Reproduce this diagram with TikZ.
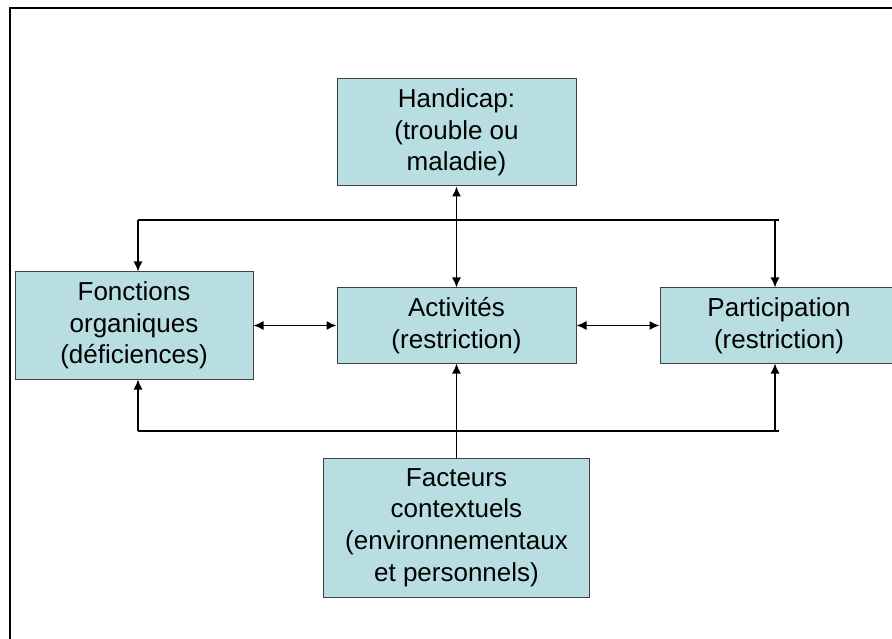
\documentclass[tikz,border=0pt]{standalone}
\usepackage{fontspec}
\setmainfont{Liberation Sans}
\usetikzlibrary{positioning,arrows.meta}

\definecolor{boxfill}{RGB}{184,222,225}

\begin{document}
\begin{tikzpicture}[x=1pt, y=-1pt,
    box/.style={draw=black!75, line width=1pt, fill=boxfill, align=center,
        inner sep=0pt, font=\fontsize{26}{31.7}\selectfont},
    link/.style={line width=1.4pt},
    arr/.style={link, -{Latex[length=10pt,width=9pt]}},
    dbl/.style={link, {Latex[length=10pt,width=9pt]}-{Latex[length=10pt,width=9pt]}}]
\useasboundingbox (0,0) rectangle (892,639);

% Outer frame
\draw[line width=2pt] (10,660) |- (910,8);

% Boxes
\node[box, minimum width=239pt, minimum height=107pt] (handicap) at (456.5,132.5) {Handicap:\\(trouble ou\\maladie)};
\node[box, minimum width=238pt, minimum height=107pt] (fonctions) at (134,325.5) {Fonctions\\organiques\\(déficiences)};
\node[box, minimum width=239pt, minimum height=75pt] (activites) at (456.5,325.5) {Activités\\(restriction)};
\node[box, minimum width=238pt, minimum height=75pt] (participation) at (779,325.5) {Participation\\(restriction)};
\node[box, minimum width=266pt, minimum height=139pt] (facteurs) at (456.5,527.5) {Facteurs\\contextuels\\(environnementaux\\et personnels)};

% Corners of the loops
\coordinate (topL) at (138,220);
\coordinate (topR) at (775,220);
\coordinate (topE) at (779,220);
\coordinate (botL) at (138,431);
\coordinate (botR) at (775,431);
\coordinate (botE) at (779,431);

% Middle row
\draw[dbl] (handicap) -- (activites);
\draw[dbl] (fonctions) -- (activites);
\draw[dbl] (activites) -- (participation);
\draw[arr] (facteurs) -- (activites);

% Upper loop
\draw[link, line width=1.2pt] (topL) -- (topE);
\draw[arr] (topL) -- (fonctions.north -| topL);
\draw[arr] (topR) -- (participation.north -| topR);

% Lower loop
\draw[link, line width=1.2pt] (botL) -- (botE);
\draw[arr] (botL) -- (fonctions.south -| botL);
\draw[arr] (botR) -- (participation.south -| botR);

\end{tikzpicture}
\end{document}
